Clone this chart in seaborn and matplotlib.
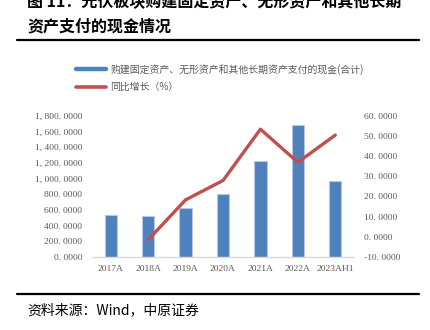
import matplotlib
matplotlib.use("Agg")
import matplotlib.pyplot as plt
import seaborn as sns
import numpy as np
import pandas as pd
from matplotlib.lines import Line2D
from matplotlib.ticker import FuncFormatter

sns.set_theme(style="white")
plt.rcParams['font.family'] = ['Noto Sans CJK SC', 'DejaVu Sans']

categories = ["2017A", "2018A", "2019A", "2020A", "2021A", "2022A", "2023AH1"]
capex = [535, 526, 628, 799, 1223, 1678, 972]
growth_categories = ["2018A", "2019A", "2020A", "2021A", "2022A", "2023AH1"]
growth = [-1.5, 18.3, 27.9, 53.3, 36.9, 50.4]
left_ticks = [0, 200, 400, 600, 800, 1000, 1200, 1400, 1600, 1800]
right_ticks = [-10, 0, 10, 20, 30, 40, 50, 60]
bar_label = "购建固定资产、无形资产和其他长期资产支付的现金(合计)"
line_label = "同比增长（%）"

W, H = 430, 330
fig = plt.figure(figsize=(W / 100, H / 100), dpi=100)
ax = fig.add_axes([92 / W, 1 - 257 / H, (354 - 92) / W, (257 - 115.7) / H])

df = pd.DataFrame({"cat": categories, "val": capex})
sns.barplot(data=df, x="cat", y="val", ax=ax, color="#4F81BD", saturation=1,
            width=0.33, edgecolor="#B4C7E7", linewidth=0.8)
ax.set_xlim(-0.5, len(categories) - 0.5)
ax.set_ylim(0, 1800)
ax.set_yticks(left_ticks)


def spaced(s):
    return s.replace(",", ", ").replace(".", ". ")


ax.yaxis.set_major_formatter(FuncFormatter(lambda v, p: spaced(f"{v:,.4f}")))
ax.set_xlabel("")
ax.set_ylabel("")

ax2 = ax.twinx()
gx = [categories.index(c) for c in growth_categories]
gdf = pd.DataFrame({"x": gx, "g": growth})
sns.lineplot(data=gdf, x="x", y="g", ax=ax2, color="#C0504D", linewidth=2.4)
ax2.set_ylim(-10, 60)
ax2.set_yticks(right_ticks)
ax2.yaxis.set_major_formatter(FuncFormatter(lambda v, p: spaced(f"{v:.4f}")))
ax2.set_xlabel("")
ax2.set_ylabel("")
ax2.set_xlim(-0.5, len(categories) - 0.5)

tick_color = "#595959"
for a in (ax, ax2):
    for s in a.spines.values():
        s.set_visible(False)
    a.tick_params(length=0, colors=tick_color, labelsize=6.8)
    for lab in a.get_yticklabels() + a.get_xticklabels():
        lab.set_fontfamily(['Liberation Serif', 'DejaVu Serif'])
ax.spines['bottom'].set_visible(True)
ax.spines['bottom'].set_color("#D9D9D9")
ax.spines['bottom'].set_linewidth(1.0)
ax.tick_params(axis='y', pad=7)
ax.tick_params(axis='x', pad=6)
ax2.tick_params(axis='y', pad=7)
ax.grid(False)
ax2.grid(False)

handles = [Line2D([], [], color="#4F81BD", linewidth=3.2),
           Line2D([], [], color="#C0504D", linewidth=2.6)]
fig.legend(handles, [bar_label, line_label], loc="upper left",
           bbox_to_anchor=(76 / W, 1 - 64 / H), frameon=False,
           fontsize=7.1, labelcolor=tick_color, handlelength=3.0,
           handletextpad=0.5, labelspacing=0.75, borderpad=0, borderaxespad=0)

# title (first line partially cut off at the top, as in the reference)
fig.text(27 / W, 1 - 1.5 / H, "图 11：光伏板块购建固定资产、无形资产和其他长期",
         ha="left", va="center", fontsize=11.5, fontweight="bold", color="black")
fig.text(27 / W, 1 - 26.5 / H, "资产支付的现金情况",
         ha="left", va="center", fontsize=11.5, fontweight="bold", color="black")
fig.add_artist(Line2D([17 / W, 419 / W], [1 - 40 / H, 1 - 40 / H],
                      color="black", linewidth=1.6))
fig.add_artist(Line2D([17 / W, 419 / W], [1 - 294 / H, 1 - 294 / H],
                      color="black", linewidth=1.6))
fig.text(27 / W, 1 - 310 / H, "资料来源：Wind，中原证券",
         ha="left", va="center", fontsize=10, color="black")

fig.savefig("out.png", dpi=100, facecolor="white")
